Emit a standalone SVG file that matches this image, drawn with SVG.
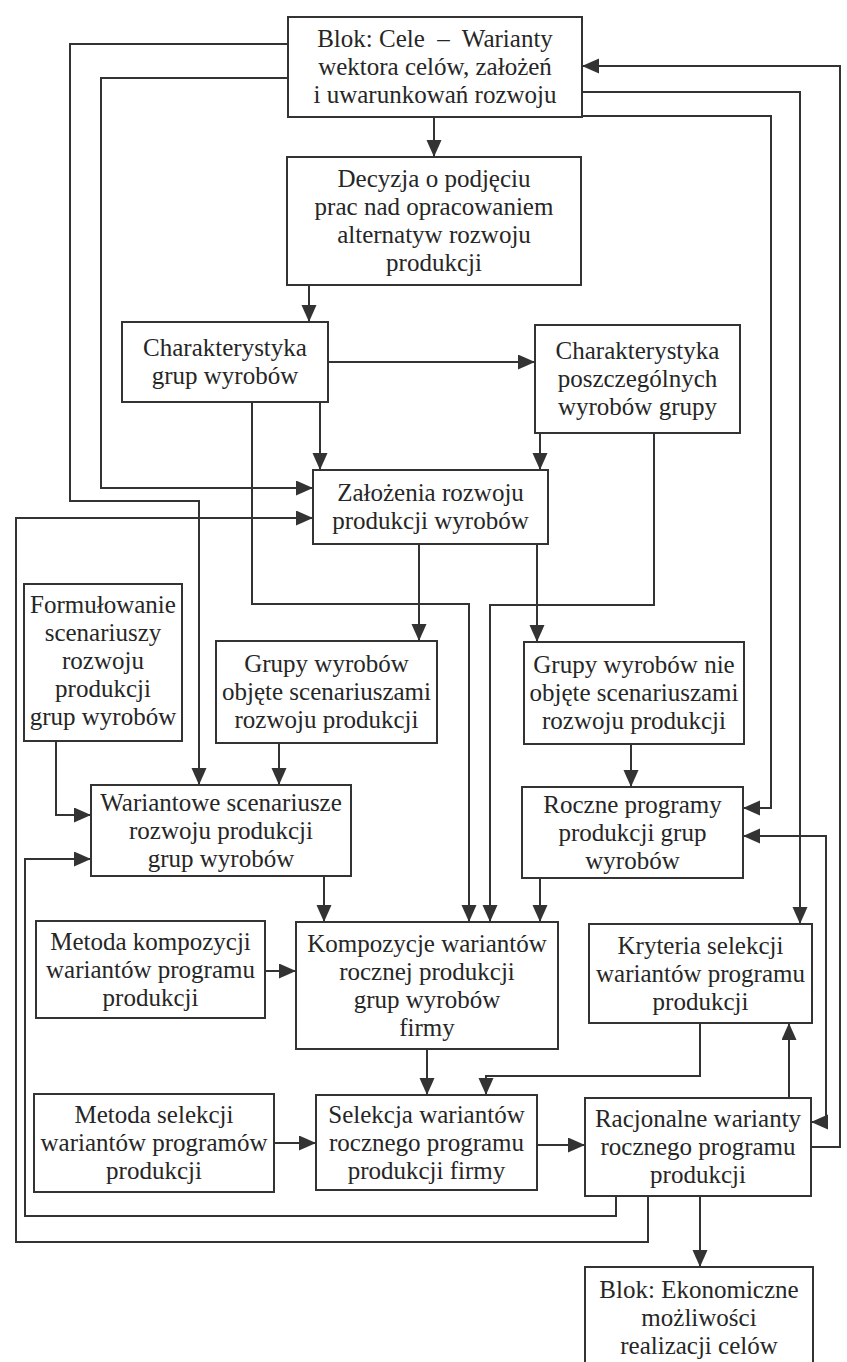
<svg xmlns="http://www.w3.org/2000/svg" width="847" height="1362" viewBox="0 0 847 1362">
<style>
.bx{fill:#fff;stroke:#333;stroke-width:2}
.t{font-family:"Liberation Serif","Times New Roman",serif;font-size:25px;fill:#262626;text-anchor:middle}
.c{fill:none;stroke:#333;stroke-width:2}
</style>
<defs>
<marker id="ah" markerUnits="userSpaceOnUse" markerWidth="18" markerHeight="16" refX="17" refY="7.5" orient="auto-start-reverse">
<path d="M0,0 L17,7.5 L0,15 z" fill="#333"/>
</marker>
</defs>
<rect width="847" height="1362" fill="#fff"/>

<g id="connectors">
<path class="c" d="M434,117 V157" marker-end="url(#ah)"/>
<path class="c" d="M309,285 V322" marker-end="url(#ah)"/>
<path class="c" d="M328,362 H535" marker-end="url(#ah)"/>
<path class="c" d="M320,402 V470" marker-end="url(#ah)"/>
<path class="c" d="M540,433 V470" marker-end="url(#ah)"/>
<path class="c" d="M288,44 H70 V501 H199 V785" marker-end="url(#ah)"/>
<path class="c" d="M288,78 H101 V488 H313" marker-end="url(#ah)"/>
<path class="c" d="M648,1196 V1242 H16 V518 H313" marker-end="url(#ah)"/>
<path class="c" d="M616,1196 V1216 H25 V859 H91" marker-end="url(#ah)"/>
<path class="c" d="M252,402 V604 H469 V922" marker-end="url(#ah)"/>
<path class="c" d="M654,433 V605 H490 V922" marker-end="url(#ah)"/>
<path class="c" d="M419,544 V641" marker-end="url(#ah)"/>
<path class="c" d="M537,544 V642" marker-end="url(#ah)"/>
<path class="c" d="M56,741 V815 H91" marker-end="url(#ah)"/>
<path class="c" d="M279,743 V785" marker-end="url(#ah)"/>
<path class="c" d="M631,744 V787" marker-end="url(#ah)"/>
<path class="c" d="M582,116 H771 V808 H743" marker-end="url(#ah)"/>
<path class="c" d="M582,92 H800 V924" marker-end="url(#ah)"/>
<path class="c" d="M811,1147 H840 V66 H582" marker-end="url(#ah)"/>
<path class="c" d="M743,836 H826 V1122 H811" marker-start="url(#ah)" marker-end="url(#ah)"/>
<path class="c" d="M324,876 V922" marker-end="url(#ah)"/>
<path class="c" d="M540,878 V922" marker-end="url(#ah)"/>
<path class="c" d="M265,971 H296" marker-end="url(#ah)"/>
<path class="c" d="M427,1049 V1095" marker-end="url(#ah)"/>
<path class="c" d="M700,1023 V1076 H486 V1095" marker-end="url(#ah)"/>
<path class="c" d="M274,1143 H316" marker-end="url(#ah)"/>
<path class="c" d="M537,1145 H585" marker-end="url(#ah)"/>
<path class="c" d="M789,1098 V1023" marker-end="url(#ah)"/>
<path class="c" d="M700,1196 V1267" marker-end="url(#ah)"/>
</g>

<g id="n1"><rect class="bx" x="288" y="17" width="294" height="100"/>
<text class="t" x="435" y="47">Blok: Cele &#160;–&#160; Warianty</text>
<text class="t" x="435" y="75">wektora celów, założeń</text>
<text class="t" x="435" y="103">i uwarunkowań rozwoju</text></g>

<g id="n2"><rect class="bx" x="287" y="157" width="294" height="128"/>
<text class="t" x="434" y="187">Decyzja o podjęciu</text>
<text class="t" x="434" y="215">prac nad opracowaniem</text>
<text class="t" x="434" y="243">alternatyw rozwoju</text>
<text class="t" x="434" y="271">produkcji</text></g>

<g id="n3"><rect class="bx" x="122" y="322" width="206" height="80"/>
<text class="t" x="225" y="356">Charakterystyka</text>
<text class="t" x="225" y="384">grup wyrobów</text></g>

<g id="n4"><rect class="bx" x="535" y="325" width="205" height="108"/>
<text class="t" x="637.5" y="359">Charakterystyka</text>
<text class="t" x="637.5" y="387">poszczególnych</text>
<text class="t" x="637.5" y="415">wyrobów grupy</text></g>

<g id="n5"><rect class="bx" x="313" y="470" width="235" height="74"/>
<text class="t" x="430.5" y="501">Założenia rozwoju</text>
<text class="t" x="430.5" y="529">produkcji wyrobów</text></g>

<g id="n6"><rect class="bx" x="24" y="584" width="158" height="157"/>
<text class="t" x="103" y="613">Formułowanie</text>
<text class="t" x="103" y="641">scenariuszy</text>
<text class="t" x="103" y="669">rozwoju</text>
<text class="t" x="103" y="697">produkcji</text>
<text class="t" x="103" y="725">grup wyrobów</text></g>

<g id="n7"><rect class="bx" x="216" y="641" width="221" height="102"/>
<text class="t" x="326.5" y="672">Grupy wyrobów</text>
<text class="t" x="326.5" y="700">objęte scenariuszami</text>
<text class="t" x="326.5" y="728">rozwoju produkcji</text></g>

<g id="n8"><rect class="bx" x="524" y="642" width="220" height="102"/>
<text class="t" x="634" y="673">Grupy wyrobów nie</text>
<text class="t" x="634" y="701">objęte scenariuszami</text>
<text class="t" x="634" y="729">rozwoju produkcji</text></g>

<g id="n9"><rect class="bx" x="91" y="785" width="260" height="91"/>
<text class="t" x="221" y="811">Wariantowe scenariusze</text>
<text class="t" x="221" y="839">rozwoju produkcji</text>
<text class="t" x="221" y="867">grup wyrobów</text></g>

<g id="n10"><rect class="bx" x="522" y="787" width="221" height="91"/>
<text class="t" x="632.5" y="813">Roczne programy</text>
<text class="t" x="632.5" y="841">produkcji grup</text>
<text class="t" x="632.5" y="869">wyrobów</text></g>

<g id="n11"><rect class="bx" x="36" y="921" width="229" height="97"/>
<text class="t" x="150.5" y="950">Metoda kompozycji</text>
<text class="t" x="150.5" y="978">wariantów programu</text>
<text class="t" x="150.5" y="1006">produkcji</text></g>

<g id="n12"><rect class="bx" x="296" y="922" width="262" height="127"/>
<text class="t" x="427" y="952">Kompozycje wariantów</text>
<text class="t" x="427" y="980">rocznej produkcji</text>
<text class="t" x="427" y="1008">grup wyrobów</text>
<text class="t" x="427" y="1036">firmy</text></g>

<g id="n13"><rect class="bx" x="589" y="924" width="223" height="99"/>
<text class="t" x="700.5" y="954">Kryteria selekcji</text>
<text class="t" x="700.5" y="982">wariantów programu</text>
<text class="t" x="700.5" y="1010">produkcji</text></g>

<g id="n14"><rect class="bx" x="316" y="1095" width="221" height="95"/>
<text class="t" x="426.5" y="1123">Selekcja wariantów</text>
<text class="t" x="426.5" y="1151">rocznego programu</text>
<text class="t" x="426.5" y="1179">produkcji firmy</text></g>

<g id="n15"><rect class="bx" x="34" y="1094" width="240" height="98"/>
<text class="t" x="154" y="1123">Metoda selekcji</text>
<text class="t" x="154" y="1151">wariantów programów</text>
<text class="t" x="154" y="1179">produkcji</text></g>

<g id="n16"><rect class="bx" x="585" y="1098" width="226" height="98"/>
<text class="t" x="698" y="1127">Racjonalne warianty</text>
<text class="t" x="698" y="1155">rocznego programu</text>
<text class="t" x="698" y="1183">produkcji</text></g>

<g id="n17"><rect class="bx" x="585" y="1267" width="228" height="110"/>
<text class="t" x="699" y="1298">Blok: Ekonomiczne</text>
<text class="t" x="699" y="1326">możliwości</text>
<text class="t" x="699" y="1354">realizacji celów</text></g>
</svg>
